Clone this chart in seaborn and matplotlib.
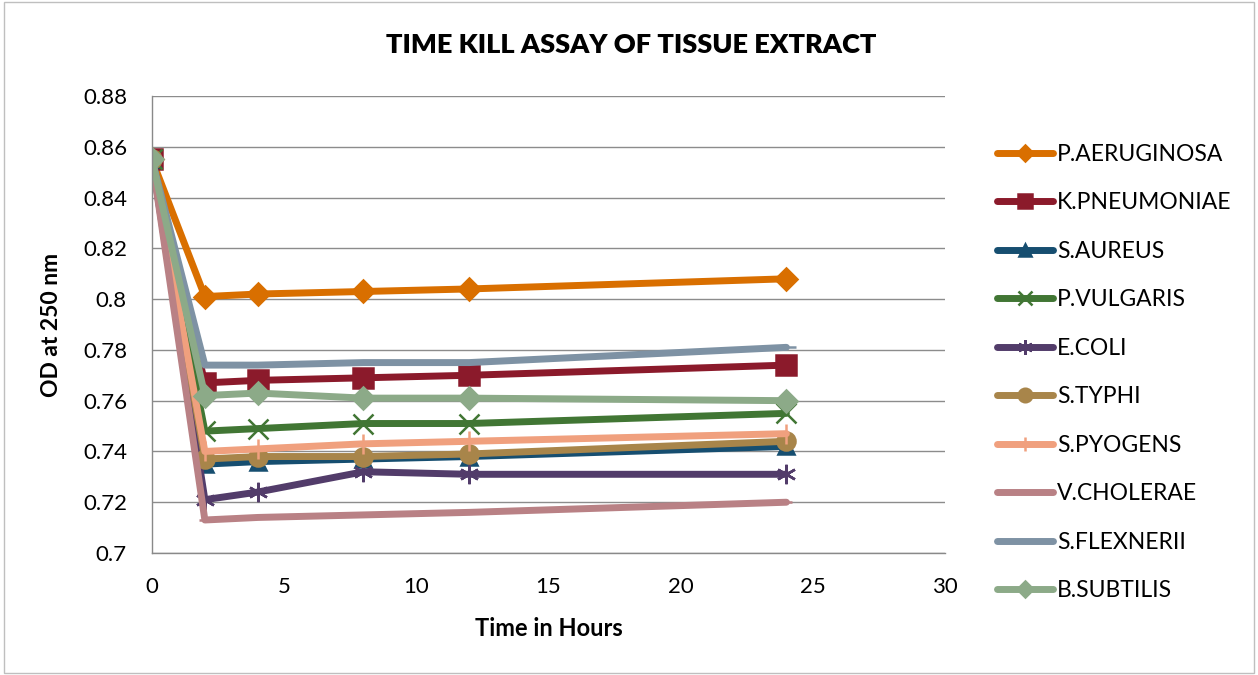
import matplotlib
matplotlib.use("Agg")
import matplotlib.pyplot as plt
import seaborn as sns
import pandas as pd
from matplotlib.patches import Rectangle

hours = [0, 2, 4, 8, 12, 24]
p_aeruginosa = [0.855, 0.801, 0.802, 0.803, 0.804, 0.808]
k_pneumoniae = [0.855, 0.767, 0.768, 0.769, 0.770, 0.774]
s_aureus = [0.855, 0.735, 0.736, 0.737, 0.738, 0.742]
p_vulgaris = [0.855, 0.748, 0.749, 0.751, 0.751, 0.755]
e_coli = [0.855, 0.721, 0.724, 0.732, 0.731, 0.731]
s_typhi = [0.855, 0.737, 0.738, 0.738, 0.739, 0.744]
s_pyogens = [0.855, 0.740, 0.741, 0.743, 0.744, 0.747]
v_cholerae = [0.855, 0.713, 0.714, 0.715, 0.716, 0.720]
s_flexnerii = [0.855, 0.774, 0.774, 0.775, 0.775, 0.781]
b_subtilis = [0.855, 0.762, 0.763, 0.761, 0.761, 0.760]

names = ["P.AERUGINOSA", "K.PNEUMONIAE", "S.AUREUS", "P.VULGARIS", "E.COLI",
         "S.TYPHI", "S.PYOGENS", "V.CHOLERAE", "S.FLEXNERII", "B.SUBTILIS"]
series = [p_aeruginosa, k_pneumoniae, s_aureus, p_vulgaris, e_coli,
          s_typhi, s_pyogens, v_cholerae, s_flexnerii, b_subtilis]
colors = ["#D96F00", "#8B1A2B", "#164E70", "#417634", "#523C6A",
          "#A8854A", "#F0A07E", "#B98185", "#7E92A4", "#8CAA88"]
markers = ["D", "s", "^", "x", (6, 2, 0), "o", "|", "_", "_", "D"]
msizes = [11, 14, 12, 14, 14, 13, 14, 8, 14, 11]

sns.set_theme(style="white")
plt.rcParams['font.family'] = ['Lato', 'DejaVu Sans']
plt.rcParams['text.color'] = 'black'
plt.rcParams['axes.labelcolor'] = 'black'

fig = plt.figure(figsize=(12.58, 6.75), dpi=100)
ax = fig.add_axes([152/1258, 1-553/675, (945-152)/1258, (553-96)/675])

for name, vals, c, m, ms in zip(names, series, colors, markers, msizes):
    df = pd.DataFrame({"hours": hours, "od": vals})
    sns.lineplot(data=df, x="hours", y="od", ax=ax, color=c, linewidth=5,
                 marker=m, markersize=ms, markeredgecolor=c, markeredgewidth=1.8,
                 label=name, solid_capstyle="round", solid_joinstyle="round")

ax.set_xlim(0, 30)
ax.set_ylim(0.70, 0.88)
ax.set_xticks(range(0, 31, 5))
yt = [0.70 + 0.02*i for i in range(10)]
ax.set_yticks(yt)
ax.set_yticklabels([f"{v:.2f}"[:-1] if f"{v:.2f}".endswith("0") else f"{v:.2f}" for v in yt])
ax.tick_params(axis="both", labelsize=16, labelcolor="black", length=0)
ax.tick_params(axis="y", pad=18)
ax.tick_params(axis="x", pad=17)
ax.grid(axis="y", color="#8C8C8C", linewidth=1)
ax.grid(axis="x", visible=False)
for s in ["top", "right"]:
    ax.spines[s].set_visible(False)
for s in ["left", "bottom"]:
    ax.spines[s].set_color("#898989")
    ax.spines[s].set_linewidth(1)
ax.set_xlabel("Time in Hours", fontsize=17, fontweight="bold", color="black")
ax.set_ylabel("OD at 250 nm", fontsize=16.5, fontweight="bold", color="black")
ax.xaxis.set_label_coords(0.5, -(628-553)/(553-96), transform=ax.transAxes)
ax.xaxis.label.set_va("center")
ax.yaxis.set_label_coords(-(152-52)/(945-152), 0.5, transform=ax.transAxes)
ax.yaxis.label.set_va("center")
fig.text(631/1258, 1-45/675, "TIME KILL ASSAY OF TISSUE EXTRACT", ha="center", va="center",
         fontsize=19.5, fontweight="heavy", color="black")

leg = ax.legend(loc="center left", bbox_to_anchor=(988/1258, 1-372.5/675), bbox_transform=fig.transFigure,
                frameon=False, fontsize=16.5, labelspacing=1.2, handlelength=2.45, handletextpad=0.17,
                borderaxespad=0, markerscale=0.75, labelcolor="black")

fig.add_artist(Rectangle((4/1258, 2/675), 1-8/1258, 1-4/675, transform=fig.transFigure,
                         fill=False, edgecolor="#BFBFBF", linewidth=1))

fig.savefig("out.png", dpi=100)
